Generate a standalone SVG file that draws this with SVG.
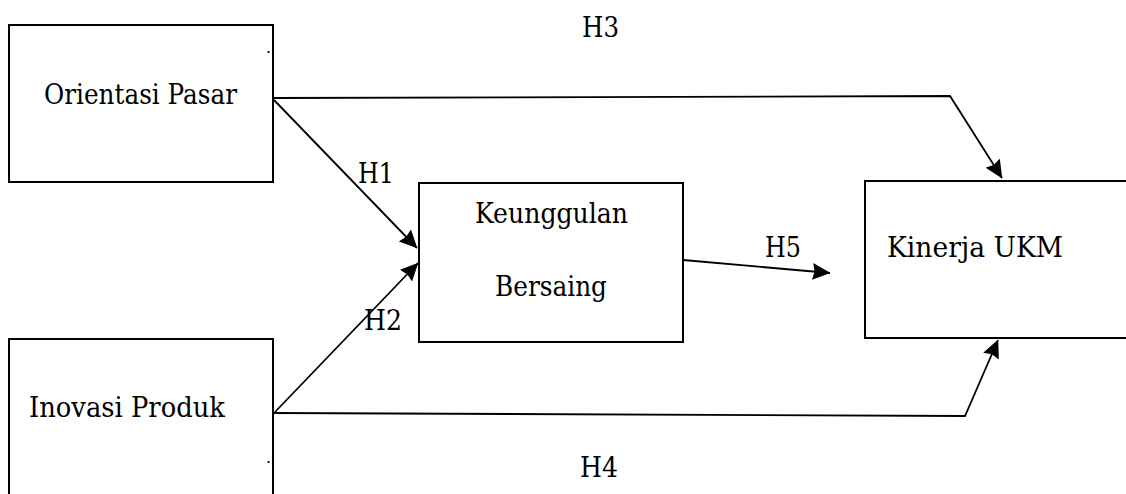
<svg xmlns="http://www.w3.org/2000/svg" width="1126" height="494" viewBox="0 0 1126 494">
<style>
.box{fill:#fff;stroke:#000;stroke-width:2}
text{font-family:'DejaVu Serif','Liberation Serif',serif;fill:#000}
.lbl{font-size:28px}
.h{font-size:28px}
.dot{font-size:16px}
.c{fill:none;stroke:#000;stroke-width:1.8}
</style>
<defs>
<marker id="arr" markerUnits="userSpaceOnUse" markerWidth="18" markerHeight="17" viewBox="0 0 18 17" refX="17.5" refY="8.5" orient="auto">
<path d="M0,0 L18,8.5 L0,17 L2,8.5 Z" fill="#000"/>
</marker>
</defs>
<rect width="1126" height="494" fill="#fff"/>
<g id="connectors">
<polyline class="c" points="274,98 950,96 1002,178" marker-end="url(#arr)"/>
<line class="c" x1="274" y1="100" x2="417" y2="248" marker-end="url(#arr)"/>
<line class="c" x1="275" y1="412" x2="418" y2="263" marker-end="url(#arr)"/>
<line class="c" x1="683" y1="260" x2="830" y2="273" marker-end="url(#arr)"/>
<polyline class="c" points="274,413 965,416 998,340" marker-end="url(#arr)"/>
</g>
<g id="node-orientasi">
<rect class="box" x="9" y="25" width="264" height="157"/>
<text class="lbl" x="44" y="104" textLength="193" lengthAdjust="spacingAndGlyphs">Orientasi Pasar</text>
<text class="dot" x="266" y="53">.</text>
</g>
<g id="node-keunggulan">
<rect class="box" x="419" y="183" width="264" height="159"/>
<text class="lbl" x="475" y="223" textLength="153" lengthAdjust="spacingAndGlyphs">Keunggulan</text>
<text class="lbl" x="495" y="296" textLength="112" lengthAdjust="spacingAndGlyphs">Bersaing</text>
</g>
<g id="node-kinerja">
<rect class="box" x="865" y="181" width="280" height="157"/>
<text class="lbl" x="887" y="257" textLength="176" lengthAdjust="spacingAndGlyphs">Kinerja UKM</text>
</g>
<g id="node-inovasi">
<rect class="box" x="9" y="339" width="264" height="170"/>
<text class="lbl" x="29" y="417" textLength="196" lengthAdjust="spacingAndGlyphs">Inovasi Produk</text>
<text class="dot" x="266" y="463">.</text>
</g>
<g id="labels">
<text class="h" x="582" y="37" textLength="37" lengthAdjust="spacingAndGlyphs">H3</text>
<text class="h" x="358" y="183" textLength="36" lengthAdjust="spacingAndGlyphs">H1</text>
<text class="h" x="364" y="330" textLength="38" lengthAdjust="spacingAndGlyphs">H2</text>
<text class="h" x="765" y="257" textLength="36" lengthAdjust="spacingAndGlyphs">H5</text>
<text class="h" x="580" y="477" textLength="38" lengthAdjust="spacingAndGlyphs">H4</text>
</g>
</svg>
